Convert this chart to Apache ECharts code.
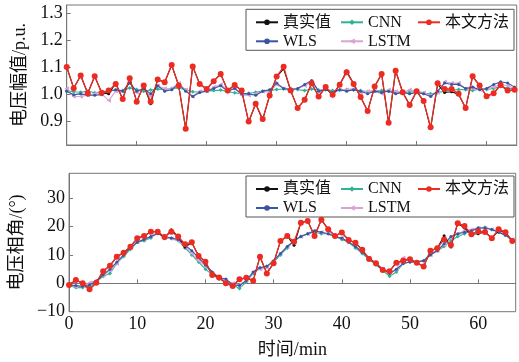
<!DOCTYPE html>
<html>
<head>
<meta charset="utf-8">
<script src="https://cdn.jsdelivr.net/npm/echarts@6/dist/echarts.min.js"></script>
<style>
  html, body { margin: 0; padding: 0; background: #fff; }
  #chart { width: 519px; height: 362px; }
</style>
</head>
<body>
<div id="chart"></div>
<script>
// 上图：电压幅值 (p.u.)，每分钟一个点
const magTrue = [1.10,1.021,1.068,1.002,1.065,1.004,1.000,1.040,0.981,1.058,0.971,1.031,0.963,1.053,1.043,1.107,1.031,0.872,1.102,1.037,1.018,1.047,1.074,1.012,1.033,1.012,0.895,0.963,0.903,0.994,1.064,1.093,1.012,0.947,0.978,1.039,0.990,1.025,0.993,1.034,1.085,1.037,0.988,0.936,1.027,1.074,0.890,1.086,1.006,0.959,1.010,0.973,0.872,1.035,1.005,1.008,0.998,0.947,1.065,1.031,0.991,1.002,1.033,1.010,1.015];
const magCNN = [1.012,1.008,1.006,1.010,1.004,1.008,1.010,1.014,1.012,1.022,1.016,1.010,1.014,1.018,1.016,1.020,1.022,1.014,1.008,1.006,1.010,1.012,1.014,1.008,1.004,1.000,1.002,1.006,1.010,1.012,1.016,1.018,1.020,1.016,1.012,1.018,1.014,1.016,1.012,1.014,1.016,1.014,1.012,1.008,1.010,1.012,1.010,1.006,1.004,1.008,1.006,1.002,1.000,1.004,1.010,1.014,1.016,1.015,1.012,1.018,1.016,1.020,1.027,1.022,1.018];
const magOurs = [1.10,1.021,1.068,1.002,1.065,1.004,1.012,1.037,0.981,1.058,0.971,1.031,0.971,1.053,1.043,1.107,1.031,0.870,1.102,1.037,1.018,1.047,1.074,1.012,1.033,1.012,0.897,0.963,0.907,0.994,1.064,1.101,1.012,0.947,0.978,1.039,0.990,1.025,0.997,1.034,1.080,1.037,0.988,0.936,1.027,1.074,0.893,1.086,1.006,0.959,1.010,0.973,0.876,1.039,1.018,1.018,1.000,0.947,1.065,1.031,0.991,1.002,1.033,1.012,1.015];
const magWLS = [1.010,0.997,1.000,0.995,0.995,0.997,1.010,1.015,1.010,1.040,1.010,1.020,1.000,1.030,1.010,1.015,1.035,1.010,0.990,1.005,1.010,1.020,1.030,1.010,1.020,1.000,1.000,0.995,1.010,1.015,1.040,1.020,1.015,1.020,1.035,1.050,1.010,1.015,1.005,1.015,1.010,1.015,1.010,1.000,1.010,1.005,1.010,1.000,1.005,1.000,1.005,1.000,0.990,1.010,1.040,1.035,1.035,1.020,1.025,1.015,1.020,1.035,1.045,1.040,1.025];
const magLSTM = [1.020,0.990,0.990,0.995,1.000,1.000,0.975,1.010,1.010,1.045,1.005,1.020,0.990,1.030,1.020,1.020,1.040,1.015,0.990,1.010,1.010,1.025,1.035,1.015,1.020,0.995,0.995,1.000,1.010,1.005,1.035,1.020,1.010,1.020,1.030,1.045,1.010,1.020,1.000,1.015,1.015,1.020,1.005,1.010,1.010,1.000,1.015,1.010,1.005,1.015,1.010,1.005,0.995,1.005,1.045,1.040,1.040,1.020,1.020,1.015,1.020,1.025,1.035,1.030,1.020];

// 下图：电压相角 (°)
const angTrue = [-0.6,1.2,0.0,-2.1,0.2,4.3,6.2,9.4,10.8,12.9,15.9,16.7,18.2,18.2,16.0,18.9,16.5,12.8,14.3,9.6,7.6,2.9,2.1,0.0,-0.9,1.4,2.0,0.9,9.4,3.5,7.1,14.9,16.7,13.4,21.4,22.0,16.7,22.4,19.1,16.7,17.9,15.3,14.3,11.8,8.6,7.1,4.7,4.3,7.3,8.0,8.5,7.3,5.9,11.5,12.4,16.8,12.8,21.2,19.5,17.3,17.5,18.1,15.9,18.6,18.0,14.9];
const angCNN = [-0.8,-1.5,-1.5,-1.0,0.5,2.5,3.5,7.0,9.5,12.0,14.5,15.0,16.0,18.2,15.8,15.8,15.0,12.5,10.0,7.5,5.0,3.0,1.5,0.5,-0.5,-1.8,0.5,3.5,5.5,6.0,7.5,10.0,12.5,15.0,16.5,17.5,18.0,17.5,17.5,16.5,15.5,14.5,12.5,10.5,8.5,6.5,4.5,2.5,4.0,7.0,7.5,7.5,8.0,10.5,11.5,13.0,15.0,16.5,17.5,18.5,19.5,19.8,19.0,18.0,17.0,15.0];
const angOurs = [-0.6,1.2,0.0,-2.1,0.2,4.3,6.2,9.4,10.8,12.9,15.9,16.7,18.2,18.2,16.3,18.2,16.5,13.8,14.5,9.6,7.6,2.9,2.1,0.0,-0.9,1.4,2.0,0.9,9.4,3.5,7.1,14.9,16.7,14.7,21.4,22.0,16.7,22.4,19.1,16.7,17.9,15.3,14.3,11.8,8.6,7.1,4.7,4.3,7.3,8.0,8.5,7.3,5.9,11.5,12.4,15.5,13.5,21.2,20.2,17.3,18.4,18.1,15.9,19.1,18.0,14.9];
const angWLS = [-0.5,-0.8,-1.0,-0.5,0.8,3.0,5.0,7.5,10.0,12.5,14.5,15.5,16.5,17.5,16.5,16.0,15.5,13.5,11.5,9.0,6.5,4.0,2.0,1.5,-0.5,-0.8,1.0,4.0,5.5,6.0,8.0,10.5,13.0,15.0,16.5,17.5,18.5,18.0,17.5,16.5,16.0,14.5,13.0,11.0,9.0,7.0,5.0,3.5,5.0,7.0,7.5,7.5,8.0,10.0,11.5,14.0,16.5,17.5,18.0,18.5,19.5,19.5,19.0,18.0,17.0,15.5];
const angLSTM = [-0.3,-1.2,-1.0,0.2,1.0,2.8,4.5,7.0,10.0,12.5,14.5,15.5,16.5,18.0,16.0,15.8,15.0,13.0,10.5,8.0,6.0,3.5,2.0,1.0,0.0,-0.5,1.0,4.0,5.0,5.5,8.0,10.5,13.0,15.0,16.5,17.5,18.5,18.0,17.5,16.5,16.0,14.5,13.0,11.0,9.0,7.0,5.0,3.5,5.0,9.0,8.0,7.5,8.0,10.0,11.5,13.5,16.0,17.5,18.5,19.0,19.5,19.5,19.0,18.5,17.0,15.5];

const magTicks = [0.9, 1.0, 1.1, 1.2, 1.3];
const angTicks = [-10, 0, 10, 20, 30];
const timeTicks = [0, 10, 20, 30, 40, 50, 60];

const FONT = "'Liberation Serif', 'Noto Sans CJK SC', serif";
const AXIS_COLOR = "#777";

const styles = {
  "真实值": { color: "#111", symbol: "circle", size: 3, width: 1.1, z: 4 },
  "CNN": { color: "#2fb394", symbol: "diamond", size: 4, width: 1.1, z: 2 },
  "本文方法": { color: "#ec2b22", symbol: "circle", size: 6, width: 1.3, z: 5 },
  "WLS": { color: "#3a54a4", symbol: "circle", size: 3, width: 1.1, z: 3 },
  "LSTM": { color: "#d9a3d3", symbol: "triangle", size: 4.5, width: 1.1, z: 2 },
};

function toPoints(arr) {
  return arr.map((v, i) => [i, v]);
}

function makeSeries(name, arr, idx) {
  const s = styles[name];
  return {
    name: name,
    type: "line",
    xAxisIndex: idx,
    yAxisIndex: idx,
    data: toPoints(arr),
    symbol: s.symbol,
    symbolSize: s.size,
    symbolRotate: name === "LSTM" ? 90 : 0,
    showSymbol: true,
    z: s.z,
    animation: false,
    lineStyle: { color: s.color, width: s.width },
    itemStyle: { color: s.color, borderWidth: 0 },
  };
}

// 图例位置（每个面板 5 项，两行三列）
const legendCols = { "真实值": 255, "CNN": 340, "本文方法": 417, "WLS": 255, "LSTM": 340 };
const legendRow = { "真实值": 0, "CNN": 0, "本文方法": 0, "WLS": 1, "LSTM": 1 };

function makeLegends(boxTop) {
  return Object.keys(legendCols).map((name) => ({
    data: [name],
    left: legendCols[name],
    top: boxTop + 5 + legendRow[name] * 19,
    itemWidth: 22,
    itemHeight: 7,
    itemGap: 4,
    padding: 0,
    z: 20,
    selectedMode: false,
    textStyle: { fontFamily: FONT, fontSize: 16, color: "#111" },
  }));
}

function yAxisBase(idx, min, max, ticks, name, fmt) {
  return {
    gridIndex: idx,
    type: "value",
    min: min,
    max: max,
    name: name,
    nameLocation: "middle",
    nameGap: 30,
    nameTextStyle: { fontFamily: FONT, fontSize: 18, color: "#111" },
    axisLine: { show: true, lineStyle: { color: AXIS_COLOR } },
    axisTick: { show: true, inside: true, length: 4, customValues: ticks, lineStyle: { color: AXIS_COLOR } },
    axisLabel: { customValues: ticks, formatter: fmt, fontFamily: FONT, fontSize: 18, color: "#111", margin: 4 },
    splitLine: { show: false },
  };
}

const chart = echarts.init(document.getElementById("chart"));

const option = {
  backgroundColor: "#fff",
  animation: false,
  grid: [
    { left: 66.7, top: 5, width: 450, height: 140, show: true, borderColor: AXIS_COLOR, borderWidth: 1 },
    { left: 66.7, top: 173.3, width: 449, height: 138.4, show: true, borderColor: AXIS_COLOR, borderWidth: 1 },
  ],
  legend: [].concat(makeLegends(9.3), makeLegends(176)),
  xAxis: [
    {
      gridIndex: 0,
      type: "value",
      min: 0,
      max: 64.3,
      axisLine: { show: true, lineStyle: { color: AXIS_COLOR } },
      axisTick: { show: true, inside: true, length: 4, customValues: timeTicks, lineStyle: { color: AXIS_COLOR } },
      axisLabel: { show: false },
      splitLine: { show: false },
    },
    {
      gridIndex: 1,
      type: "value",
      min: 0,
      max: 65.5,
      name: "时间/min",
      nameLocation: "middle",
      nameGap: 30,
      nameTextStyle: { fontFamily: FONT, fontSize: 18, color: "#111" },
      axisLine: { show: true, lineStyle: { color: AXIS_COLOR } },
      axisTick: { show: true, inside: true, length: 4, customValues: timeTicks, lineStyle: { color: AXIS_COLOR } },
      axisLabel: { customValues: timeTicks, fontFamily: FONT, fontSize: 18, color: "#111", margin: 4 },
      splitLine: { show: false },
    },
  ],
  yAxis: [
    yAxisBase(0, 0.81, 1.33, magTicks, "电压幅值/p.u.", (v) => v.toFixed(1)),
    yAxisBase(1, -10, 38.8, angTicks, "电压相角/(°)", (v) => (v < 0 ? "\u2212" + Math.abs(v) : String(v))),
  ],
  graphic: [
    { type: "rect", shape: { x: 246, y: 9.3, width: 268, height: 41 }, style: { fill: "#fff", stroke: "#555", lineWidth: 1 }, z: 1 },
    { type: "rect", shape: { x: 246, y: 176, width: 268, height: 41 }, style: { fill: "#fff", stroke: "#555", lineWidth: 1 }, z: 1 },
  ],
  series: [
    makeSeries("CNN", magCNN, 0),
    makeSeries("LSTM", magLSTM, 0),
    makeSeries("WLS", magWLS, 0),
    makeSeries("真实值", magTrue, 0),
    makeSeries("本文方法", magOurs, 0),
    makeSeries("CNN", angCNN, 1),
    makeSeries("LSTM", angLSTM, 1),
    makeSeries("WLS", angWLS, 1),
    makeSeries("真实值", angTrue, 1),
    makeSeries("本文方法", angOurs, 1),
  ],
};

chart.setOption(option);
</script>
</body>
</html>
